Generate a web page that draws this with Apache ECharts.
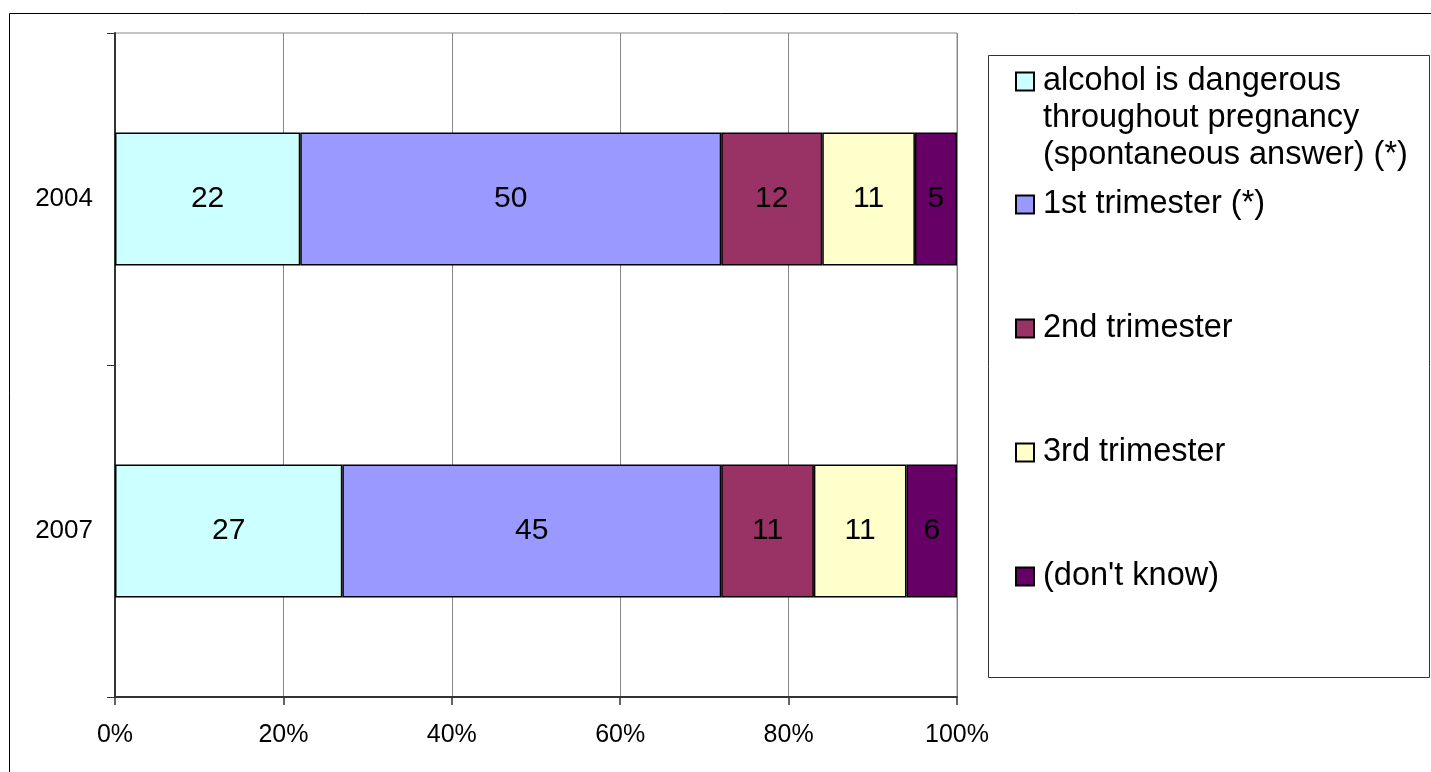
<!DOCTYPE html>
<html>
<head>
<meta charset="utf-8">
<script src="https://cdn.jsdelivr.net/npm/echarts@6/dist/echarts.min.js"></script>
<style>
  html, body { margin: 0; padding: 0; background: #fff; }
  #chart { width: 1431px; height: 772px; }
</style>
</head>
<body>
<div id="chart"></div>
<script>
// data
var years = ['2004', '2007'];
var seriesNames = [
  'alcohol is dangerous\nthroughout pregnancy\n(spontaneous answer) (*)',
  '1st trimester (*)',
  '2nd trimester',
  '3rd trimester',
  "(don't know)"
];
var dangerousThroughout = [22, 27];
var firstTrimester = [50, 45];
var secondTrimester = [12, 11];
var thirdTrimester = [11, 11];
var dontKnow = [5, 6];
var xTicks = [0, 20, 40, 60, 80, 100];

var colors = ['#CCFFFF', '#9999FF', '#993366', '#FFFFCC', '#660066'];
var values = [dangerousThroughout, firstTrimester, secondTrimester, thirdTrimester, dontKnow];
var font = 'Liberation Sans, Arial, sans-serif';

var chart = echarts.init(document.getElementById('chart'));

var series = seriesNames.map(function (name, i) {
  return {
    name: name,
    type: 'bar',
    stack: 'total',
    barWidth: '40%',
    data: values[i],
    itemStyle: { color: colors[i], borderColor: '#000', borderWidth: 1.5 },
    label: {
      show: true,
      position: 'inside',
      color: '#000',
      fontFamily: font,
      fontSize: 30
    },
    emphasis: { disabled: true }
  };
});

var option = {
  animation: false,
  backgroundColor: '#fff',
  grid: {
    left: 115, right: 474, top: 33, bottom: 75,
    show: true, borderColor: '#888', borderWidth: 1
  },
  xAxis: {
    type: 'value',
    min: xTicks[0],
    max: xTicks[xTicks.length - 1],
    interval: 20,
    axisLine: { show: true, lineStyle: { color: '#333', width: 2 } },
    axisTick: { show: true, length: 8, lineStyle: { color: '#333', width: 1.5 } },
    axisLabel: {
      formatter: '{value}%', color: '#000', fontFamily: font, fontSize: 25, margin: 26
    },
    splitLine: { show: true, lineStyle: { color: '#888', width: 1 } }
  },
  yAxis: {
    type: 'category',
    inverse: true,
    data: years,
    axisLine: { show: true, lineStyle: { color: '#333', width: 2 } },
    axisTick: { show: true, length: 8, lineStyle: { color: '#333', width: 1 } },
    axisLabel: { color: '#000', fontFamily: font, fontSize: 26, margin: 22 },
    splitLine: { show: false }
  },
  legend: [
    {
      // first entry: two blank lines in front keep the marker beside the first line
      orient: 'vertical',
      left: 1015,
      top: -11,
      padding: 0,
      icon: 'rect',
      itemWidth: 18,
      itemHeight: 18,
      selectedMode: false,
      data: [seriesNames[0]],
      formatter: function (name) { return '\n\n' + name; },
      textStyle: { fontFamily: font, fontSize: 32.5, color: '#000', lineHeight: 37, padding: [0, 0, 0, 4] }
    },
    {
      orient: 'vertical',
      left: 1015,
      top: 188,
      padding: 0,
      icon: 'rect',
      itemWidth: 18,
      itemHeight: 18,
      itemGap: 91,
      selectedMode: false,
      data: seriesNames.slice(1),
      textStyle: { fontFamily: font, fontSize: 32.5, color: '#000', padding: [0, 0, 0, 4] }
    }
  ],
  graphic: [
    {
      type: 'rect',
      silent: true,
      shape: { x: 9.5, y: 13.5, width: 1500, height: 800 },
      style: { fill: 'none', stroke: '#000', lineWidth: 1 }
    },
    {
      type: 'rect',
      silent: true,
      shape: { x: 988.5, y: 55.5, width: 441, height: 622 },
      style: { fill: 'none', stroke: '#333', lineWidth: 1 }
    }
  ],
  series: series
};

chart.setOption(option);

window.addEventListener('resize', function () {
  chart.resize();
});
</script>
</body>
</html>
